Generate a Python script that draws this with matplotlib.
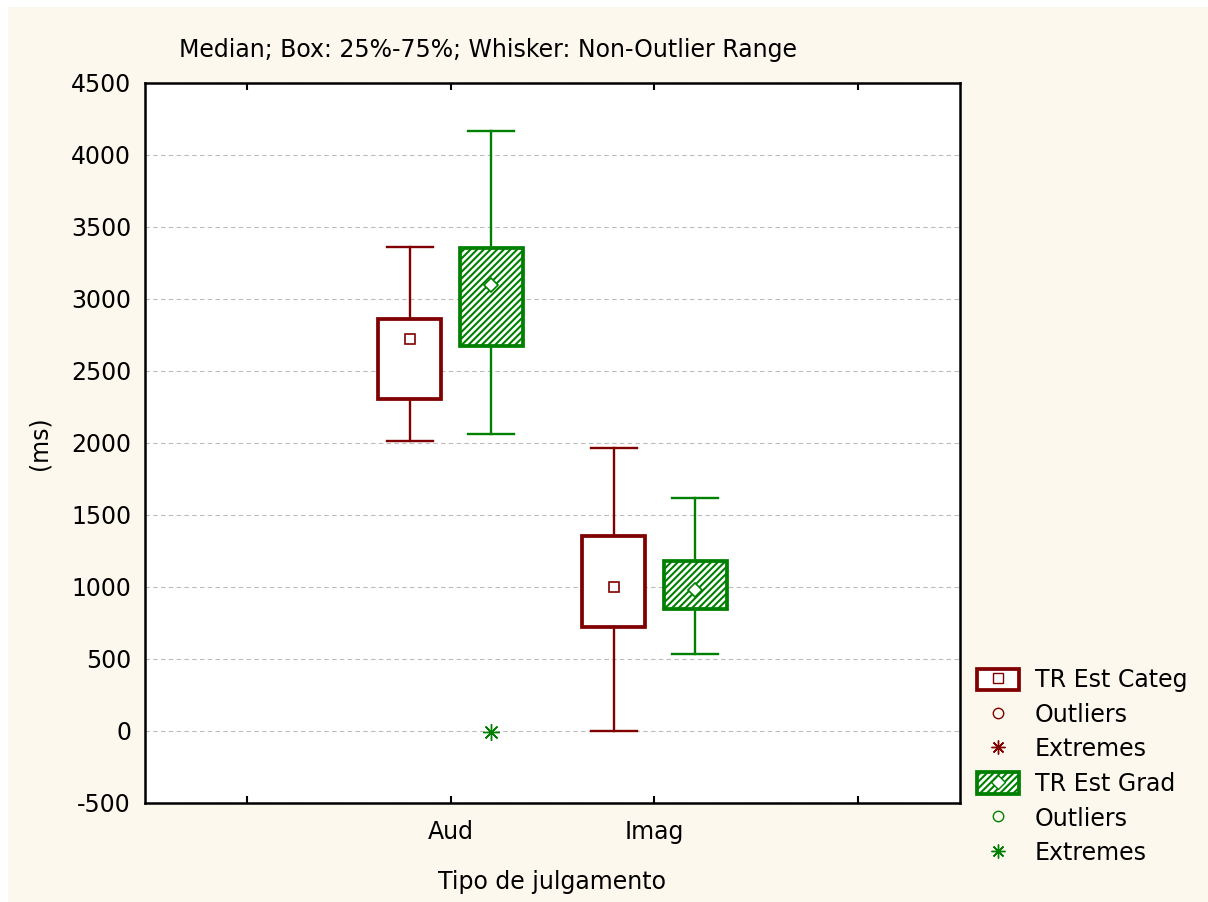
import matplotlib.pyplot as plt
from matplotlib.patches import Rectangle
from matplotlib.lines import Line2D
from matplotlib.legend_handler import HandlerTuple

plt.rcParams['font.family'] = ['DejaVu Sans']
plt.rcParams['hatch.linewidth'] = 1.5
plt.rcParams['axes.unicode_minus'] = False

# data
groups = ["Aud", "Imag"]
series = ["TR Est Categ", "TR Est Grad"]
median = [[2722, 1000], [3097, 979]]
q1 = [[2306, 722], [2674, 847]]
q3 = [[2860, 1354], [3354, 1181]]
whislo = [[2014, 0], [2062, 535]]
whishi = [[3361, 1965], [4167, 1618]]
extremes = [[[], []], [[-10], []]]

colors = ["#800000", "#008000"]
med_markers = ["s", "D"]
offsets = [-0.2, 0.2]
group_pos = [2, 3]
hatches = [None, "/////"]

fig = plt.figure(figsize=(12.08, 9.02), dpi=100, facecolor="white")
fig.patches.append(Rectangle((8 / 1208, 0), 1, 1 - 7 / 902, transform=fig.transFigure,
                             facecolor="#fdf8ed", edgecolor="none", zorder=-10))
ax = fig.add_axes([145 / 1208, 1 - 803 / 902, 815 / 1208, 720 / 902])
ax.set_facecolor("white")

handles = []
for s in range(2):
    stats = []
    for g in range(2):
        stats.append(dict(med=median[s][g], q1=q1[s][g], q3=q3[s][g],
                          whislo=whislo[s][g], whishi=whishi[s][g], fliers=[]))
    pos = [p + offsets[s] for p in group_pos]
    ax.bxp(stats, positions=pos, widths=0.31, patch_artist=True,
           showfliers=False, manage_ticks=False,
           boxprops=dict(facecolor="white", edgecolor=colors[s], linewidth=2.7,
                         hatch=hatches[s]),
           whiskerprops=dict(color=colors[s], linewidth=1.7),
           capprops=dict(color=colors[s], linewidth=1.7),
           capwidths=0.225,
           medianprops=dict(linestyle="none"))
    ax.plot(pos, median[s], linestyle="none", marker=med_markers[s],
            markersize=7.5 if s == 0 else 7, markerfacecolor="white",
            markeredgecolor=colors[s], markeredgewidth=1.2, zorder=5)
    for g in range(2):
        if extremes[s][g]:
            ax.plot([pos[g]] * len(extremes[s][g]), extremes[s][g], linestyle="none",
                    marker=(8, 2, 0), markersize=12, color=colors[s], markeredgewidth=1.0)
    box_h = (Rectangle((0, 0), 1, 1, facecolor="white", edgecolor=colors[s], linewidth=2.7,
                       hatch=hatches[s]),
             Line2D([], [], linestyle="none", marker=med_markers[s], markersize=7.5,
                    markerfacecolor="white", markeredgecolor=colors[s]))
    out_h = Line2D([], [], linestyle="none", marker="o", markersize=7.5,
                   markerfacecolor="none", markeredgecolor=colors[s])
    ext_h = Line2D([], [], linestyle="none", marker=(8, 2, 0), markersize=10,
                   color=colors[s], markeredgewidth=1.0)
    handles += [box_h, out_h, ext_h]

labels = [series[0], "Outliers", "Extremes", series[1], "Outliers", "Extremes"]

ax.set_xlim(0.5, 4.5)
ax.set_ylim(-500, 4500)
ax.set_xticks([1, 2, 3, 4])
ax.set_xticklabels(["", groups[0], groups[1], ""])
ax.set_yticks(range(-500, 4501, 500))
ax.tick_params(axis="x", direction="in", top=True, length=5, width=1.5, labelsize=17, pad=12)
ax.tick_params(axis="y", length=0, labelsize=17, pad=10)
ax.yaxis.grid(True, linestyle=(0, (4, 3)), color="#bbbbbb", linewidth=0.8)
ax.set_axisbelow(True)
for sp in ax.spines.values():
    sp.set_linewidth(1.8)

ax.set_ylabel("(ms)", fontsize=17, labelpad=14)
ax.set_xlabel("Tipo de julgamento", fontsize=17, labelpad=19)
fig.text(179 / 1208, 1 - 50 / 902, "Median; Box: 25%-75%; Whisker: Non-Outlier Range",
         fontsize=17, ha="left", va="center")

fig.legend(handles, labels, handler_map={tuple: HandlerTuple(ndivide=1)},
           loc="upper left", bbox_to_anchor=(956 / 1208, 1 - 647 / 902),
           frameon=False, fontsize=17, handlelength=1.75, handleheight=1.0,
           labelspacing=0.45, handletextpad=0.7)

fig.savefig("out.png", dpi=100, facecolor=fig.get_facecolor())
